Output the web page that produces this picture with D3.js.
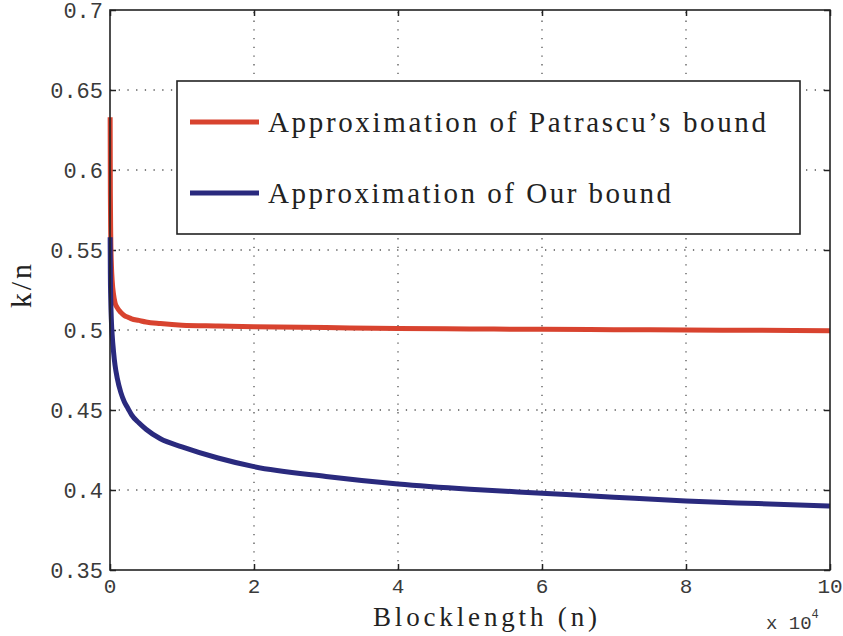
<!DOCTYPE html>
<html><head><meta charset="utf-8">
<script src="https://cdn.jsdelivr.net/npm/d3@7"></script>
<style>body{margin:0;background:#fff}svg{display:block}</style>
</head><body>
<svg id="chart" width="843" height="636"></svg>
<script>
// Data
const blocklength = [20, 50, 100, 200, 300, 500, 700, 1000, 1500, 2000, 2500, 3000, 4000, 5000, 7000, 10000, 15000, 20000, 30000, 40000, 50000, 60000, 70000, 80000, 90000, 100000];
const patrascu = [0.633, 0.585, 0.560, 0.540, 0.531, 0.522, 0.517, 0.514, 0.511, 0.509, 0.508, 0.507, 0.506, 0.505, 0.504, 0.503, 0.5025, 0.502, 0.5015, 0.501, 0.5007, 0.5004, 0.5002, 0.5000, 0.4998, 0.4996];
const ours = [0.558, 0.535, 0.520, 0.505, 0.497, 0.486, 0.478, 0.470, 0.461, 0.455, 0.451, 0.447, 0.442, 0.438, 0.432, 0.427, 0.420, 0.4146, 0.4085, 0.4038, 0.4005, 0.398, 0.3955, 0.3931, 0.3915, 0.390];
const seriesNames = ["Approximation of Patrascu\u2019s bound", "Approximation of Our bound"];
const seriesColors = ["#d8432f", "#2a2a7e"];
const xTicks = [0, 20000, 40000, 60000, 80000, 100000];
const yTicks = [0.35, 0.4, 0.45, 0.5, 0.55, 0.6, 0.65, 0.7];

const svg = d3.select("#chart");
const L = 110, R = 830, T = 10, B = 570;
const x = d3.scaleLinear().domain([0, 100000]).range([L, R]);
const y = d3.scaleLinear().domain([0.35, 0.7]).range([B, T]);
const mono = "'Liberation Mono', 'DejaVu Sans Mono', monospace";
const serif = "'Liberation Serif', 'DejaVu Serif', serif";

// grid
const grid = svg.append("g").attr("stroke", "#555").attr("stroke-width", 1.3)
  .attr("stroke-dasharray", "1.3,7.4").attr("fill", "none");
xTicks.slice(1, -1).forEach(t => grid.append("line").attr("x1", x(t)).attr("x2", x(t)).attr("y1", B).attr("y2", T));
yTicks.slice(1, -1).forEach(t => grid.append("line").attr("x1", L).attr("x2", R).attr("y1", y(t)).attr("y2", y(t)));

// axes (inward ticks)
const tickCol = "#222";
const axL = svg.append("g").attr("transform", `translate(${L},0)`)
  .call(d3.axisRight(y).tickValues(yTicks).tickSize(6).tickFormat(""));
const axR = svg.append("g").attr("transform", `translate(${R},0)`)
  .call(d3.axisLeft(y).tickValues(yTicks).tickSize(6).tickFormat(""));
const axB = svg.append("g").attr("transform", `translate(0,${B})`)
  .call(d3.axisTop(x).tickValues(xTicks).tickSize(6).tickFormat(""));
const axT = svg.append("g").attr("transform", `translate(0,${T})`)
  .call(d3.axisBottom(x).tickValues(xTicks).tickSize(6).tickFormat(""));
[axL, axR, axB, axT].forEach(a => {
  a.select(".domain").remove();
  a.selectAll("line").attr("stroke", tickCol).attr("stroke-width", 1.5);
});

// tick labels
svg.append("g").selectAll("text").data(yTicks).join("text")
  .attr("x", 103).attr("y", d => y(d)).attr("dy", "0.36em")
  .attr("text-anchor", "end").attr("font-family", mono).attr("font-size", 22)
  .attr("fill", "#3a3a3a").text(d => d3.format("")(+d.toFixed(2)));
svg.append("g").selectAll("text").data(xTicks).join("text")
  .attr("x", d => x(d)).attr("y", 593)
  .attr("text-anchor", "middle").attr("font-family", mono).attr("font-size", 21)
  .attr("fill", "#3a3a3a").text(d => d / 10000);

// curves
const line = d3.line().x((d, i) => x(blocklength[i])).y(d => y(d)).curve(d3.curveMonotoneX);
[patrascu, ours].forEach((s, i) => {
  svg.append("path").datum(s).attr("d", line).attr("fill", "none")
    .attr("stroke", seriesColors[i]).attr("stroke-width", 5)
    .attr("stroke-linejoin", "round").attr("stroke-linecap", "butt");
});

// frame
svg.append("rect").attr("x", L).attr("y", T).attr("width", R - L).attr("height", B - T)
  .attr("fill", "none").attr("stroke", "#222").attr("stroke-width", 1.6);

// legend
const lg = svg.append("g");
lg.append("rect").attr("x", 177).attr("y", 81).attr("width", 623).attr("height", 153)
  .attr("fill", "#fff").attr("stroke", "#222").attr("stroke-width", 1.6);
const legY = [122, 193];
seriesNames.forEach((name, i) => {
  lg.append("line").attr("x1", 190).attr("x2", 259).attr("y1", legY[i]).attr("y2", legY[i])
    .attr("stroke", seriesColors[i]).attr("stroke-width", 5);
  const t = lg.append("text").attr("x", 268).attr("y", legY[i] + 10)
    .attr("font-family", serif).attr("font-size", 29).attr("fill", "#222").text(name);
  t.attr("textLength", i === 0 ? 498 : 403).attr("lengthAdjust", "spacing");
});

// axis labels
svg.append("text").attr("x", 373).attr("y", 626)
  .attr("font-family", serif).attr("font-size", 27).attr("fill", "#222")
  .attr("textLength", 224).attr("lengthAdjust", "spacing").text("Blocklength (n)");
svg.append("text").attr("transform", "translate(31,286) rotate(-90)")
  .attr("text-anchor", "middle").attr("font-family", serif).attr("font-size", 30)
  .attr("fill", "#222").attr("textLength", 44).attr("lengthAdjust", "spacing").text("k/n");
const mult = svg.append("text").attr("x", 766).attr("y", 629)
  .attr("font-family", mono).attr("font-size", 19).attr("fill", "#3a3a3a");
mult.append("tspan").text("x 10");
mult.append("tspan").attr("dy", -11).attr("font-size", 12).text("4");
</script>
</body></html>
